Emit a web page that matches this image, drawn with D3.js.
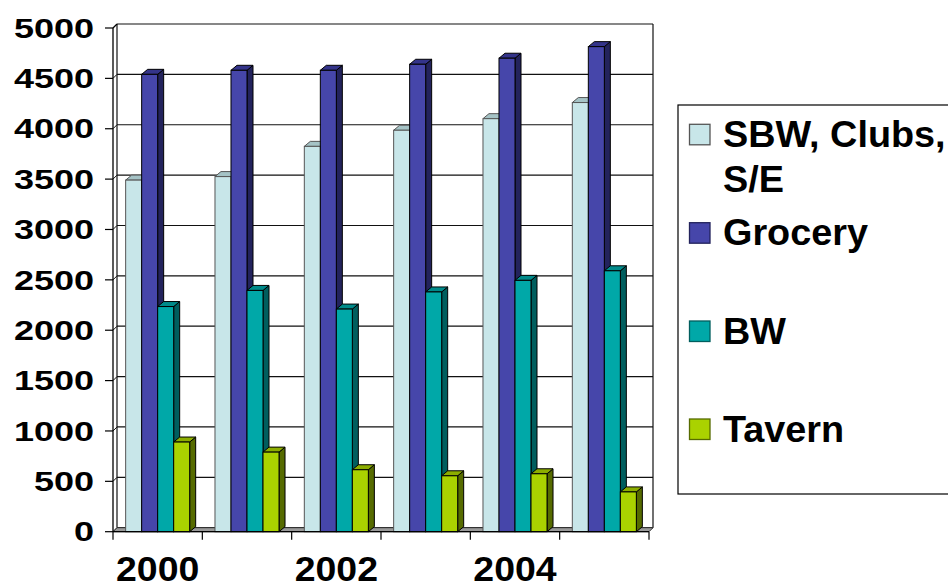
<!DOCTYPE html>
<html>
<head>
<meta charset="utf-8">
<script src="https://cdn.jsdelivr.net/npm/d3@7"></script>
<style>
  html, body { margin: 0; padding: 0; background: #fff; }
  svg { display: block; }
  text { font-family: "Liberation Sans", Arial, sans-serif; font-weight: bold; fill: #000; }
</style>
</head>
<body>
<svg id="chart" width="948" height="587"></svg>
<script>
// ---- data ----
const years = ["2000", "2001", "2002", "2003", "2004", "2005"];
const yearLabels = ["2000", "", "2002", "", "2004", ""];
const seriesNames = ["SBW, Clubs, S/E", "Grocery", "BW", "Tavern"];
const legendLines = [["SBW, Clubs,", "S/E"], ["Grocery"], ["BW"], ["Tavern"]];
const sbw     = [3490, 3525, 3825, 3985, 4100, 4260];
const grocery = [4540, 4580, 4580, 4640, 4700, 4815];
const bw      = [2235, 2395, 2210, 2380, 2495, 2590];
const tavern  = [890, 790, 615, 555, 575, 395];
const yTicks  = [0, 500, 1000, 1500, 2000, 2500, 3000, 3500, 4000, 4500, 5000];

const seriesValues = [sbw, grocery, bw, tavern];
const frontColors = ["#C8E6E9", "#4646AA", "#00A8A8", "#AAD200"];
const topColors   = ["#A5C3C6", "#34348A", "#008A8A", "#8CAD00"];
const sideColors  = ["#8EAAAD", "#23235C", "#005E5E", "#566B00"];
const strokeColors = ["#555", "#000", "#000", "#000"];

// ---- geometry ----
const svg = d3.select("#chart");
const pLeft = 113, pRight = 649, pBottom = 531.7, pTop = 28;
const wallDx = 4, wallDy = 4;       // depth of walls
const barDx = 6, barDy = 5;         // depth of bars

const x0 = d3.scaleBand().domain(years).range([pLeft, pRight]).paddingInner(0).paddingOuter(0);
const x1 = d3.scaleBand().domain(seriesNames).range([0, x0.bandwidth()]).paddingInner(0).paddingOuter(0.79);
const y = d3.scaleLinear().domain([0, 5000]).range([pBottom, pTop]);

// back wall gridlines
const g = svg.append("g");
g.selectAll("line.grid").data(yTicks).join("line")
  .attr("x1", pLeft + wallDx).attr("x2", pRight + wallDx)
  .attr("y1", d => y(d) - wallDy).attr("y2", d => y(d) - wallDy)
  .attr("stroke", "#111").attr("stroke-width", 1.2);
// left wall diagonal gridlines
g.selectAll("line.lw").data(yTicks).join("line")
  .attr("x1", pLeft).attr("x2", pLeft + wallDx)
  .attr("y1", d => y(d)).attr("y2", d => y(d) - wallDy)
  .attr("stroke", "#111").attr("stroke-width", 1);
// back wall right edge & left edge
g.append("line").attr("x1", pRight + wallDx).attr("x2", pRight + wallDx)
  .attr("y1", y(5000) - wallDy).attr("y2", y(0) - wallDy).attr("stroke", "#111").attr("stroke-width", 1.2);
g.append("line").attr("x1", pLeft + wallDx).attr("x2", pLeft + wallDx)
  .attr("y1", y(5000) - wallDy).attr("y2", y(0) - wallDy).attr("stroke", "#111").attr("stroke-width", 1.2);

// floor
g.append("path")
  .attr("d", `M${pLeft},${y(0)} L${pRight},${y(0)} L${pRight + wallDx},${y(0) - wallDy} L${pLeft + wallDx},${y(0) - wallDy} Z`)
  .attr("fill", "#9a9a9a").attr("stroke", "#333").attr("stroke-width", 1);

// bars
const barsG = svg.append("g");
years.forEach((yr, i) => {
  seriesNames.forEach((s, k) => {
    const v = seriesValues[k][i];
    const bx = x0(yr) + x1(s);
    const bwid = x1.bandwidth();
    const yt = y(v), yb = y(0);
    const sw = 1;
    barsG.append("path")
      .attr("d", `M${bx + bwid},${yt} L${bx + bwid + barDx},${yt - barDy} L${bx + bwid + barDx},${yb - barDy} L${bx + bwid},${yb} Z`)
      .attr("fill", sideColors[k]).attr("stroke", strokeColors[k]).attr("stroke-width", sw).attr("stroke-linejoin", "round");
    barsG.append("path")
      .attr("d", `M${bx},${yt} L${bx + bwid},${yt} L${bx + bwid + barDx},${yt - barDy} L${bx + barDx},${yt - barDy} Z`)
      .attr("fill", topColors[k]).attr("stroke", strokeColors[k]).attr("stroke-width", sw).attr("stroke-linejoin", "round");
    barsG.append("rect")
      .attr("x", bx).attr("y", yt).attr("width", bwid).attr("height", yb - yt)
      .attr("fill", frontColors[k]).attr("stroke", strokeColors[k]).attr("stroke-width", sw);
  });
});

// front axes
const ax = svg.append("g");
ax.append("line").attr("x1", pLeft).attr("x2", pLeft).attr("y1", y(5000)).attr("y2", y(0))
  .attr("stroke", "#000").attr("stroke-width", 1.3);
ax.append("line").attr("x1", pLeft).attr("x2", pLeft + wallDx).attr("y1", y(5000)).attr("y2", y(5000) - wallDy)
  .attr("stroke", "#000").attr("stroke-width", 1.2);
ax.append("line").attr("x1", pLeft).attr("x2", pRight).attr("y1", y(0)).attr("y2", y(0))
  .attr("stroke", "#000").attr("stroke-width", 1.3);
ax.selectAll("line.yt").data(yTicks).join("line")
  .attr("x1", pLeft - 8).attr("x2", pLeft).attr("y1", d => y(d)).attr("y2", d => y(d))
  .attr("stroke", "#000").attr("stroke-width", 1.2);
ax.selectAll("text.yl").data(yTicks).join("text")
  .attr("text-anchor", "end")
  .attr("font-size", 27.5)
  .attr("transform", d => `translate(94,${y(d) + 9.7}) scale(1.31,1)`)
  .text(d => d);
const xBounds = years.map(yr => x0(yr)).concat([pRight]);
ax.selectAll("line.xt").data(xBounds).join("line")
  .attr("x1", d => d).attr("x2", d => d).attr("y1", y(0)).attr("y2", y(0) + 8)
  .attr("stroke", "#000").attr("stroke-width", 1.2);
ax.selectAll("text.xl").data(years).join("text")
  .attr("text-anchor", "middle")
  .attr("font-size", 35)
  .attr("transform", (d) => `translate(${x0(d) + x0.bandwidth() / 2},580.5) scale(1.07,1)`)
  .text((d, i) => yearLabels[i]);

// legend
const lg = svg.append("g");
lg.append("rect").attr("x", 678).attr("y", 105).attr("width", 300).attr("height", 389)
  .attr("fill", "#fff").attr("stroke", "#000").attr("stroke-width", 1.2);
const legendTop = [124.3, 222.7, 321, 419];
seriesNames.forEach((s, k) => {
  lg.append("rect").attr("x", 689.5).attr("y", legendTop[k]).attr("width", 20.5).attr("height", 20.5)
    .attr("fill", frontColors[k]).attr("stroke", k === 0 ? "#555" : sideColors[k]).attr("stroke-width", 1.3);
  legendLines[k].forEach((ln, j) => {
    lg.append("text")
      .attr("font-size", 36)
      .attr("transform", `translate(723,${legendTop[k] + 22.7 + j * 44.7}) scale(1.05,1)`)
      .text(ln);
  });
});
</script>
</body>
</html>
